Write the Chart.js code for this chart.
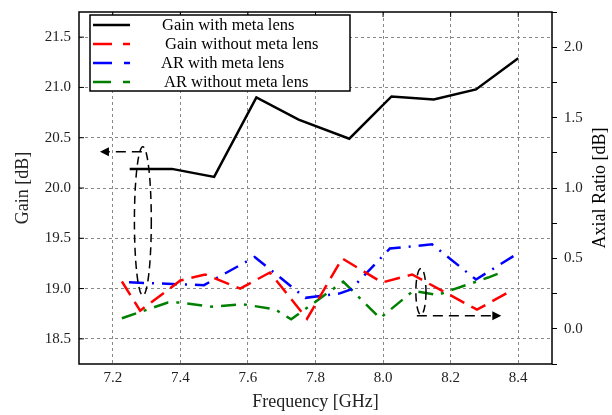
<!DOCTYPE html>
<html>
<head>
<meta charset="utf-8">
<script src="https://cdn.jsdelivr.net/npm/chart.js@4.4.1/dist/chart.umd.min.js"></script>
<style>
  html, body { margin: 0; padding: 0; background: #fff; }
  #wrap { width: 612px; height: 415px; }
</style>
</head>
<body>
<div id="wrap"><canvas id="chart"></canvas></div>
<script>
// frequencies [GHz] and values
const gainWithFreq = [7.25, 7.375, 7.5, 7.625, 7.75, 7.9, 8.025, 8.15, 8.275, 8.4];
const gainWithVals = [20.19, 20.19, 20.11, 20.90, 20.68, 20.49, 20.91, 20.88, 20.98, 21.29];

const gainWithoutFreq = [7.227, 7.281, 7.40, 7.473, 7.577, 7.665, 7.775, 7.879, 7.997, 8.086, 8.278, 8.385];
const gainWithoutVals = [19.07, 18.78, 19.08, 19.14, 19.00, 19.16, 18.70, 19.30, 19.06, 19.14, 18.79, 18.99];

const arWithFreq = [7.248, 7.47, 7.62, 7.77, 7.87, 7.905, 8.02, 8.145, 8.275, 8.395];
const arWithVals = [0.33, 0.31, 0.51, 0.22, 0.25, 0.28, 0.57, 0.60, 0.35, 0.53];

const arWithoutFreq = [7.227, 7.363, 7.40, 7.494, 7.583, 7.68, 7.728, 7.882, 7.991, 8.089, 8.16, 8.311, 8.349];
const arWithoutVals = [0.075, 0.186, 0.186, 0.157, 0.175, 0.139, 0.067, 0.335, 0.075, 0.269, 0.24, 0.364, 0.399];

const seriesLabels = ['Gain with meta lens', 'Gain without meta lens', 'AR with meta lens', 'AR without meta lens'];

const freqTicks = [7.2, 7.4, 7.6, 7.8, 8.0, 8.2, 8.4];
const gainTicks = [18.5, 19.0, 19.5, 20.0, 20.5, 21.0, 21.5];
const arTicks = [-0.25, 0, 0.25, 0.5, 0.75, 1.0, 1.25, 1.5, 1.75, 2.0, 2.25];

// annotation marks in data units (gain axis)
const noteEllipses = [
  { x: 7.289, y: 19.67, rx: 0.025, ry: 0.74 },
  { x: 8.112, y: 18.97, rx: 0.015, ry: 0.23 }
];
const noteArrows = [
  { x1: 7.286, x2: 7.162, y: 20.36 },
  { x1: 8.10, x2: 8.35, y: 18.73 }
];

const serif = "'Liberation Serif', 'Times New Roman', serif";

function pairs(xs, ys) {
  return xs.map((x, i) => ({ x: x, y: ys[i] }));
}

function noEdgePad(s) {
  s.paddingTop = 0;
  s.paddingBottom = 0;
  s.paddingLeft = 0;
  s.paddingRight = 0;
}

const styles = [
  { color: '#000000', dash: [] },
  { color: '#ff0000', dash: [16, 8] },
  { color: '#0000ff', dash: [15, 8, 2, 8] },
  { color: '#008000', dash: [15, 8, 3, 8] }
];

const frame = {
  id: 'frame',
  beforeDatasetsDraw(chart) {
    const ctx = chart.ctx;
    const a = chart.chartArea;
    const y = chart.scales.y;
    const x = chart.scales.x;
    ctx.save();
    ctx.strokeStyle = '#000';
    ctx.lineWidth = 1;
    gainTicks.forEach(v => {
      const py = y.getPixelForValue(v);
      ctx.beginPath();
      ctx.moveTo(a.left, py);
      ctx.lineTo(a.left + 5, py);
      ctx.stroke();
    });
    freqTicks.forEach(v => {
      const px = x.getPixelForValue(v);
      ctx.beginPath();
      ctx.moveTo(px, a.top);
      ctx.lineTo(px, a.top + 5);
      ctx.stroke();
    });
    ctx.restore();
  },
  afterDatasetsDraw(chart) {
    const ctx = chart.ctx;
    const a = chart.chartArea;
    const x = chart.scales.x;
    const y = chart.scales.y;
    ctx.save();
    ctx.strokeStyle = '#000';
    ctx.lineWidth = 1.5;
    ctx.setLineDash([8, 5]);
    noteEllipses.forEach(e => {
      const cx = x.getPixelForValue(e.x);
      const cy = y.getPixelForValue(e.y);
      const rx = x.getPixelForValue(e.x + e.rx) - cx;
      const ry = cy - y.getPixelForValue(e.y + e.ry);
      ctx.beginPath();
      ctx.ellipse(cx, cy, rx, ry, 0, 0, Math.PI * 2);
      ctx.stroke();
    });
    noteArrows.forEach(ar => {
      const p1 = x.getPixelForValue(ar.x1);
      const p2 = x.getPixelForValue(ar.x2);
      const py = y.getPixelForValue(ar.y);
      const dir = p2 > p1 ? 1 : -1;
      ctx.setLineDash([10, 6]);
      ctx.beginPath();
      ctx.moveTo(p1, py);
      ctx.lineTo(p2 - dir * 8, py);
      ctx.stroke();
      ctx.setLineDash([]);
      ctx.fillStyle = '#000';
      ctx.beginPath();
      ctx.moveTo(p2, py);
      ctx.lineTo(p2 - dir * 9, py - 4.5);
      ctx.lineTo(p2 - dir * 9, py + 4.5);
      ctx.closePath();
      ctx.fill();
    });
    ctx.setLineDash([]);
    ctx.lineWidth = 1.5;
    ctx.strokeRect(a.left, a.top, a.right - a.left, a.bottom - a.top);
    ctx.restore();
  },
  afterDraw(chart) {
    const ctx = chart.ctx;
    ctx.save();
    // legend box
    const bx = 90, by = 15, bw = 260, bh = 76;
    ctx.fillStyle = '#fff';
    ctx.fillRect(bx, by, bw, bh);
    ctx.strokeStyle = '#000';
    ctx.lineWidth = 1.5;
    ctx.strokeRect(bx, by, bw, bh);
    ctx.font = '16.5px ' + serif;
    ctx.textBaseline = 'middle';
    ctx.textAlign = 'left';
    const legendDash = [[], [19, 11, 7, 0], [19, 12, 2, 0], [18, 12, 4, 0]];
    const textX = [162, 165, 161, 164];
    seriesLabels.forEach((lab, i) => {
      const ry = by + 10 + i * 19;
      ctx.strokeStyle = styles[i].color;
      ctx.lineWidth = 2.5;
      ctx.setLineDash(legendDash[i]);
      ctx.beginPath();
      ctx.moveTo(93, ry);
      ctx.lineTo(130, ry);
      ctx.stroke();
      ctx.setLineDash([]);
      ctx.fillStyle = '#000';
      ctx.fillText(lab, textX[i], ry + 1);
    });
    // right axis title, reading bottom to top
    const a = chart.chartArea;
    ctx.font = '18px ' + serif;
    ctx.textAlign = 'center';
    ctx.translate(600, (a.top + a.bottom) / 2);
    ctx.rotate(-Math.PI / 2);
    ctx.fillText('Axial Ratio [dB]', 0, 0);
    ctx.restore();
  }
};

const ctx = document.getElementById('chart').getContext('2d');
new Chart(ctx, {
  type: 'line',
  data: {
    datasets: [
      { label: seriesLabels[0], data: pairs(gainWithFreq, gainWithVals), yAxisID: 'y' },
      { label: seriesLabels[1], data: pairs(gainWithoutFreq, gainWithoutVals), yAxisID: 'y' },
      { label: seriesLabels[2], data: pairs(arWithFreq, arWithVals), yAxisID: 'y2' },
      { label: seriesLabels[3], data: pairs(arWithoutFreq, arWithoutVals), yAxisID: 'y2' }
    ].map((d, i) => Object.assign(d, {
      borderColor: styles[i].color,
      borderDash: styles[i].dash,
      borderWidth: 2.5,
      pointRadius: 0,
      tension: 0,
      fill: false
    }))
  },
  options: {
    responsive: true,
    maintainAspectRatio: false,
    animation: false,
    layout: { padding: { top: 12, left: 0, right: 0, bottom: 0 } },
    plugins: { legend: { display: false }, tooltip: { enabled: false } },
    scales: {
      x: {
        type: 'linear',
        min: 7.1,
        max: 8.5,
        afterBuildTicks: s => { s.ticks = freqTicks.map(v => ({ value: v })); },
        afterFit: s => { s.height = 51; noEdgePad(s); },
        grid: { color: '#888', drawTicks: false },
        border: { display: false, dash: [3, 3] },
        ticks: { color: '#222', font: { family: serif, size: 15 }, padding: 5, callback: v => v.toFixed(1) },
        title: { display: true, text: 'Frequency [GHz]', color: '#222', font: { family: serif, size: 18 }, padding: { top: 0, bottom: 2 } }
      },
      y: {
        position: 'left',
        min: 18.25,
        max: 21.75,
        afterBuildTicks: s => { s.ticks = gainTicks.map(v => ({ value: v })); },
        afterFit: s => { s.width = 79; noEdgePad(s); },
        grid: { color: '#888', drawTicks: false },
        border: { display: false, dash: [3, 3] },
        ticks: { color: '#222', font: { family: serif, size: 15 }, padding: 8, callback: v => v.toFixed(1) },
        title: { display: true, text: 'Gain [dB]', color: '#222', font: { family: serif, size: 18 }, padding: { top: 12, bottom: 0 } }
      },
      y2: {
        position: 'right',
        min: -0.25,
        max: 2.25,
        afterBuildTicks: s => { s.ticks = arTicks.map(v => ({ value: v })); },
        afterFit: s => { s.width = 60; noEdgePad(s); },
        grid: { drawOnChartArea: false, drawTicks: true, tickLength: 5, tickColor: '#000', tickWidth: 1 },
        border: { display: false },
        ticks: {
          color: '#222', font: { family: serif, size: 15 }, padding: 7,
          callback: v => (Math.abs(v * 2 - Math.round(v * 2)) < 1e-6 && v >= 0 && v <= 2 ? v.toFixed(1) : '')
        },
        title: { display: false }
      }
    }
  },
  plugins: [frame]
});
</script>
</body>
</html>
